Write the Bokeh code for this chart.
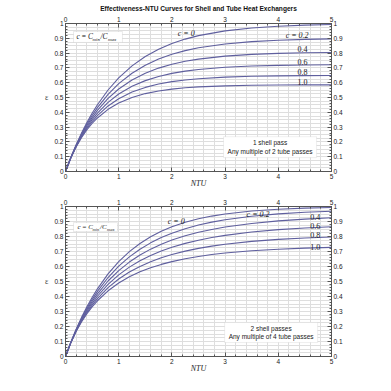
from bokeh.plotting import figure
from bokeh.models import Range1d, LinearAxis, FixedTicker, Label, BoxAnnotation
from bokeh.layouts import column
from bokeh.embed import file_html
from bokeh.resources import INLINE

# ---------------- data ----------------
c_labels = ["c = 0", "c = 0.2", "0.4", "0.6", "0.8", "1.0"]

# 1 shell pass, any multiple of 2 tube passes
ntu_top = [0, 0.1, 0.2, 0.3, 0.4, 0.5, 0.6, 0.8, 1.0, 1.25, 1.5, 1.75, 2.0, 2.25, 2.5, 3.0, 3.5, 4.0, 4.5, 5.0]
top_c00 = [0, 0.0952, 0.1813, 0.2592, 0.3297, 0.3935, 0.4512, 0.5507, 0.6321, 0.7135, 0.7769, 0.8262, 0.8647, 0.8946, 0.9179, 0.9502, 0.9698, 0.9817, 0.9889, 0.9933]
top_c02 = [0, 0.0943, 0.1780, 0.2526, 0.3190, 0.3783, 0.4313, 0.5212, 0.5934, 0.6642, 0.7185, 0.7601, 0.7922, 0.8168, 0.8359, 0.8620, 0.8776, 0.8870, 0.8926, 0.8959]
top_c04 = [0, 0.0934, 0.1748, 0.2462, 0.3088, 0.3639, 0.4125, 0.4935, 0.5572, 0.6183, 0.6641, 0.6986, 0.7247, 0.7445, 0.7595, 0.7795, 0.7912, 0.7980, 0.8019, 0.8042]
top_c06 = [0, 0.0925, 0.1717, 0.2400, 0.2989, 0.3501, 0.3946, 0.4674, 0.5233, 0.5757, 0.6140, 0.6422, 0.6629, 0.6783, 0.6897, 0.7045, 0.7127, 0.7173, 0.7198, 0.7212]
top_c08 = [0, 0.0916, 0.1687, 0.2340, 0.2895, 0.3369, 0.3777, 0.4430, 0.4919, 0.5365, 0.5682, 0.5908, 0.6070, 0.6187, 0.6271, 0.6376, 0.6431, 0.6460, 0.6475, 0.6483]
top_c10 = [0, 0.0908, 0.1657, 0.2281, 0.2804, 0.3244, 0.3616, 0.4201, 0.4627, 0.5004, 0.5264, 0.5443, 0.5568, 0.5655, 0.5716, 0.5788, 0.5823, 0.5841, 0.5850, 0.5854]

# 2 shell passes, any multiple of 4 tube passes
ntu_bot = [0, 0.1, 0.2, 0.3, 0.4, 0.5, 0.6, 0.8, 1.0, 1.2, 1.4, 1.6, 1.8, 2.0, 2.25, 2.5, 2.75, 3.0, 3.5, 4.0, 4.5, 5.0]
bot_c00 = [0, 0.0952, 0.1813, 0.2592, 0.3297, 0.3935, 0.4512, 0.5507, 0.6321, 0.6988, 0.7534, 0.7981, 0.8347, 0.8647, 0.8946, 0.9179, 0.9361, 0.9502, 0.9698, 0.9817, 0.9889, 0.9933]
bot_c02 = [0, 0.0943, 0.1782, 0.2531, 0.3200, 0.3801, 0.4341, 0.5266, 0.6021, 0.6641, 0.7153, 0.7576, 0.7928, 0.8222, 0.8522, 0.8763, 0.8958, 0.9116, 0.9349, 0.9506, 0.9613, 0.9687]
bot_c04 = [0, 0.0934, 0.1752, 0.2471, 0.3107, 0.3672, 0.4176, 0.5033, 0.5727, 0.6296, 0.6766, 0.7158, 0.7485, 0.7761, 0.8047, 0.8280, 0.8472, 0.8630, 0.8871, 0.9041, 0.9161, 0.9248]
bot_c06 = [0, 0.0926, 0.1722, 0.2413, 0.3016, 0.3547, 0.4017, 0.4807, 0.5441, 0.5957, 0.6383, 0.6736, 0.7032, 0.7281, 0.7540, 0.7753, 0.7929, 0.8075, 0.8299, 0.8457, 0.8570, 0.8653]
bot_c08 = [0, 0.0917, 0.1693, 0.2356, 0.2929, 0.3427, 0.3863, 0.4589, 0.5164, 0.5628, 0.6007, 0.6319, 0.6580, 0.6798, 0.7024, 0.7209, 0.7361, 0.7486, 0.7677, 0.7810, 0.7904, 0.7971]
bot_c10 = [0, 0.0909, 0.1664, 0.2301, 0.2844, 0.3310, 0.3715, 0.4380, 0.4899, 0.5311, 0.5644, 0.5916, 0.6140, 0.6326, 0.6517, 0.6671, 0.6795, 0.6897, 0.7050, 0.7153, 0.7225, 0.7274]

x_ticks = [0, 1, 2, 3, 4, 5]
y_ticks = [0, 0.1, 0.2, 0.3, 0.4, 0.5, 0.6, 0.7, 0.8, 0.9, 1]
y_tick_labels = ["0", "0.1", "0.2", "0.3", "0.4", "0.5", "0.6", "0.7", "0.8", "0.9", "1"]

title_text = "Effectiveness-NTU Curves for Shell and Tube Heat Exchangers"
top_note = ["1 shell pass", "Any multiple of 2 tube passes"]
bot_note = ["2 shell passes", "Any multiple of 4 tube passes"]

# ---------------- styling ----------------
CURVE = "#5f5f9e"
FRAME = "#555555"
GRID = "#dedede"
SANS = "Liberation Sans"
SERIF = "Liberation Serif"
TXT = "#222222"


def make_fig(height, top, bottom):
    p = figure(width=385, height=height, x_range=Range1d(0, 5), y_range=Range1d(0, 1),
               output_backend="svg", toolbar_location=None,
               min_border_left=65, min_border_right=54,
               min_border_top=top, min_border_bottom=bottom)
    bottom_ax = p.below[0]
    left_ax = p.left[0]
    top_ax = LinearAxis()
    right_ax = LinearAxis()
    p.add_layout(top_ax, "above")
    p.add_layout(right_ax, "right")
    overrides = {t: l for t, l in zip(y_ticks, y_tick_labels)}
    for ax in (bottom_ax, top_ax):
        ax.ticker = FixedTicker(ticks=x_ticks, minor_ticks=[i * 0.2 for i in range(26)])
    for ax in (left_ax, right_ax):
        ax.ticker = FixedTicker(ticks=y_ticks, minor_ticks=[i * 0.02 for i in range(51)])
        ax.major_label_overrides = overrides
    for ax in (bottom_ax, top_ax, left_ax, right_ax):
        ax.major_tick_in = 4
        ax.major_tick_out = 0
        ax.minor_tick_in = 2
        ax.minor_tick_out = 0
        ax.axis_line_color = FRAME
        ax.major_tick_line_color = FRAME
        ax.minor_tick_line_color = FRAME
        ax.major_label_text_font = SANS
        ax.major_label_text_font_size = "6.5px"
        ax.major_label_text_color = TXT
        ax.major_label_standoff = 2
    left_ax.axis_label = "ε"
    left_ax.axis_label_orientation = "horizontal"
    left_ax.axis_label_text_font = SERIF
    left_ax.axis_label_text_font_style = "normal"
    left_ax.axis_label_text_font_size = "8px"
    left_ax.axis_label_standoff = 3
    bottom_ax.axis_label = "NTU"
    bottom_ax.axis_label_text_font = SERIF
    bottom_ax.axis_label_text_font_style = "italic"
    bottom_ax.axis_label_text_font_size = "8px"
    bottom_ax.axis_label_text_color = TXT
    bottom_ax.axis_label_standoff = -3
    p.xgrid.ticker = FixedTicker(ticks=[i * 0.2 for i in range(1, 25)])
    p.ygrid.ticker = FixedTicker(ticks=[i * 0.025 for i in range(1, 40)])
    p.xgrid.grid_line_color = GRID
    p.ygrid.grid_line_color = GRID
    p.outline_line_color = FRAME
    p.background_fill_color = "white"
    return p


def add_ratio_box(p, left, right, top, bottom, x, y, size, subsize, offs):
    p.add_layout(BoxAnnotation(left=left, right=right, top=top, bottom=bottom,
                               fill_color="white", fill_alpha=1.0,
                               line_color="#aaaaaa", line_width=0.8))
    parts = [("c\u2009=\u2009C", size, 0), ("min", subsize, -2.5), ("/C", size, 0), ("max", subsize, -2.5)]
    for (txt, fs, dy), dx in zip(parts, offs):
        p.add_layout(Label(x=x, y=y, x_offset=dx, y_offset=dy, text=txt, text_font=SERIF,
                           text_font_style="italic", text_font_size=fs,
                           text_align="left", text_baseline="middle", text_color=TXT))


def add_note(p, left, right, top, bottom, lines, ys):
    p.add_layout(BoxAnnotation(left=left, right=right, top=top, bottom=bottom,
                               fill_color="white", fill_alpha=1.0,
                               line_color="#bbbbbb", line_width=0.8))
    for txt, y in zip(lines, ys):
        p.add_layout(Label(x=(left + right) / 2, y=y, text=txt, text_font=SANS,
                           text_font_size="6.5px", text_align="center",
                           text_baseline="middle", text_color=TXT))


def add_curve_labels(p, positions):
    for txt, (x, y, align) in zip(c_labels, positions):
        p.add_layout(Label(x=x, y=y, text=txt, text_font=SERIF,
                           text_font_style="italic" if txt.startswith("c") else "normal",
                           text_font_size="8px", text_align=align,
                           text_baseline="middle", text_color=TXT))


# ---------------- top figure ----------------
p1 = make_fig(190, 23, 18)
p1.title.text = title_text
p1.title.align = "center"
p1.title.text_font = SANS
p1.title.text_font_style = "bold"
p1.title.text_font_size = "6.6px"
p1.title.text_color = "#111111"
p1.title.standoff = 4
for ys in [top_c00, top_c02, top_c04, top_c06, top_c08, top_c10]:
    p1.line(ntu_top, ys, line_color=CURVE, line_width=1.1)

add_ratio_box(p1, 0.15, 1.07, 0.946, 0.872, 0.207, 0.909, "7.5px", "5px", [0, 16, 24, 31.5])
add_note(p1, 2.97, 4.72, 0.235, 0.094, top_note, [0.195, 0.134])
add_curve_labels(p1, [(2.27, 0.933, "center"), (4.57, 0.919, "right"), (4.55, 0.826, "right"),
                      (4.55, 0.738, "right"), (4.55, 0.671, "right"), (4.55, 0.604, "right")])

# ---------------- bottom figure ----------------
p2 = make_fig(195, 16, 29)
for ys in [bot_c00, bot_c02, bot_c04, bot_c06, bot_c08, bot_c10]:
    p2.line(ntu_bot, ys, line_color=CURVE, line_width=1.1)

add_ratio_box(p2, 0.15, 0.977, 0.893, 0.833, 0.226, 0.862, "7px", "4.5px", [0, 15, 22.5, 29.5])
add_note(p2, 2.99, 4.74, 0.227, 0.093, bot_note, [0.187, 0.133])
add_curve_labels(p2, [(2.08, 0.90, "center"), (3.62, 0.947, "center"), (4.79, 0.927, "right"),
                      (4.79, 0.867, "right"), (4.79, 0.807, "right"), (4.79, 0.727, "right")])

layout = column(p1, p2)
open("out.html", "w").write(file_html(layout, INLINE))
